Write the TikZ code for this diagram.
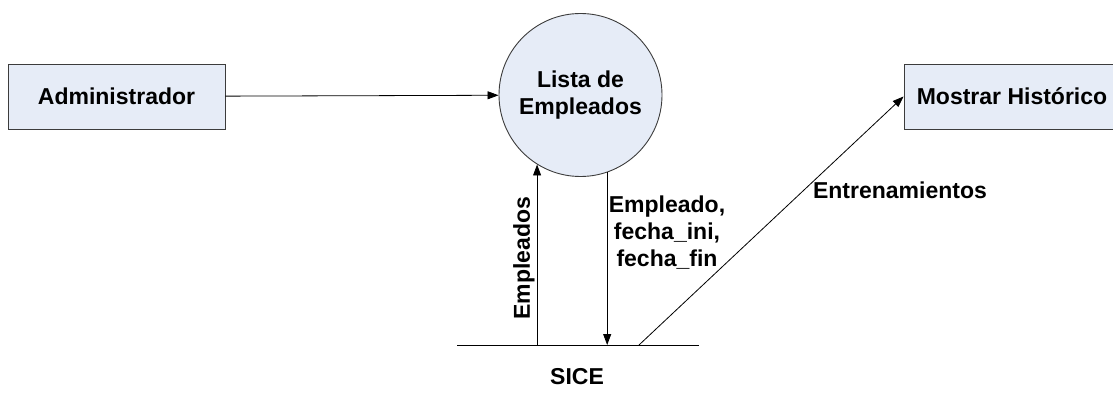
\documentclass[tikz,border=0pt]{standalone}
\usepackage{fontspec}
\setmainfont{Liberation Sans}
\usetikzlibrary{arrows.meta}
\definecolor{fondo}{RGB}{230,236,247}
\definecolor{borde}{RGB}{60,60,60}

\begin{document}
\begin{tikzpicture}[x=1pt,y=-1pt,font=\fontsize{23}{27}\selectfont\bfseries]
\tikzset{caja/.style={draw=borde,fill=fondo,line width=0.9pt,minimum height=65pt,inner sep=0pt},
         flujo/.style={draw=black,line width=0.8pt,-{Triangle[length=11pt,width=8pt]}}}
\useasboundingbox (0,0) rectangle (1113,401);
\node[caja,minimum width=217pt] (admin) at (116.5,96.5) {Administrador};
\node[circle,draw=borde,fill=fondo,line width=0.9pt,minimum size=163pt,align=center,inner sep=0pt] (lista) at (580.5,95) {Lista de\\Empleados};
\node[caja,minimum width=216pt] (hist) at (1012,96.5) {Mostrar Histórico};
% almacen
\coordinate (s1) at (457,345);
\coordinate (s2) at (699,345);
\coordinate (s3) at (639,345);
\draw[line width=0.8pt] (s1) -- (s2);
\node (sice) at (577,377) {SICE};
% flujos
\draw[flujo] (admin) -- (lista);
\draw[flujo] (lista.238 |- s1) -- (lista.238) node[pos=0.48,rotate=90,anchor=south,inner sep=2pt] {Empleados};
\draw[flujo] (lista.289) -- (lista.289 |- s1);
\node[align=center,inner sep=0pt] (datos) at (667,233) {Empleado,\\fecha\_ini,\\fecha\_fin};
\draw[flujo] (s3) -- (hist.west);
\node (entren) at (900,190) {Entrenamientos};
\end{tikzpicture}
\end{document}
